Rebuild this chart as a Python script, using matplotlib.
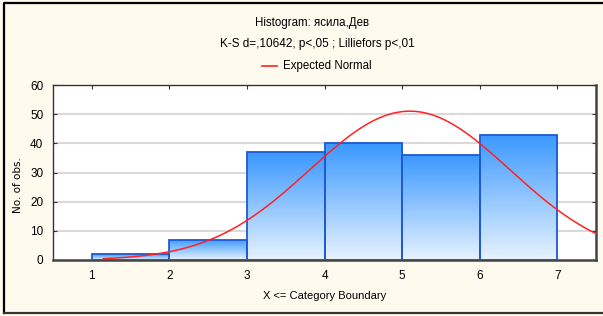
import numpy as np
import matplotlib
matplotlib.use("Agg")
import matplotlib.pyplot as plt
from matplotlib.lines import Line2D
from matplotlib.colors import LinearSegmentedColormap

# data
bin_edges = [1, 2, 3, 4, 5, 6, 7]
counts = [2, 7, 37, 40, 36, 43]
normal_mean = 5.1
normal_sd = 1.29
x_ticks = [1, 2, 3, 4, 5, 6, 7]
y_ticks = [0, 10, 20, 30, 40, 50, 60]
title1 = "Histogram: ясила,Дев"
title2 = "K-S d=,10642, p<,05 ; Lilliefors p<,01"
legend_label = "Expected Normal"
xlabel = "X <= Category Boundary"
ylabel = "No. of obs."

W, H = 603, 316
fig = plt.figure(figsize=(W / 100, H / 100), dpi=100)
bg = "#FFFAEE"
fig.patch.set_facecolor(bg)

font = ["Liberation Sans Narrow", "Liberation Sans", "DejaVu Sans"]
plt.rcParams["font.family"] = font

ax = fig.add_axes([53 / W, 1 - 260 / H, (596 - 53) / W, (260 - 85) / H])
ax.set_facecolor("white")

# grid
for yv in y_ticks[1:-1]:
    ax.axhline(yv, color="#D9D9D9", lw=1.5, zorder=0)

# gradient bars
grad = np.linspace(0, 1, 256).reshape(-1, 1)
cmap = LinearSegmentedColormap.from_list("g", ["#E8F3FF", "#3A98FF"])
widths = np.diff(bin_edges)
bars = ax.bar(bin_edges[:-1], counts, width=widths, align="edge",
              facecolor="none", edgecolor="#1E5AD2", linewidth=1.3, zorder=3)
for b in bars:
    x0, y0 = b.get_x(), b.get_y()
    w, h = b.get_width(), b.get_height()
    im = ax.imshow(grad, extent=[x0, x0 + w, y0, y0 + h], origin="lower",
                   cmap=cmap, aspect="auto", zorder=2, interpolation="bilinear")
    im.set_clip_path(b)
ax.set_aspect("auto")
ax.set_xlim(0.5, 7.5)
ax.set_ylim(0, 60)

# expected normal
N = sum(counts)
xs = np.linspace(1.15, 7.5, 400)
ys = N * 1.0 / (normal_sd * np.sqrt(2 * np.pi)) * np.exp(-0.5 * ((xs - normal_mean) / normal_sd) ** 2)
ax.plot(xs, ys, color="#FF2222", lw=1.1, zorder=4, clip_on=False)

ax.set_xticks(x_ticks)
ax.set_yticks(y_ticks)
ax.tick_params(direction="in", length=3, width=0.8, top=True, right=True,
               labelsize=8.5, colors="#333333", labelcolor="black", pad=7)
for s in ["left", "top"]:
    ax.spines[s].set_color("#333333")
    ax.spines[s].set_linewidth(1.0)
for s in ["bottom", "right"]:
    ax.spines[s].set_color("#444444")
    ax.spines[s].set_linewidth(1.8)

fig.text(325 / W, 1 - 296 / H, xlabel, ha="center", va="center", fontsize=8)
fig.text(18 / W, 1 - 185 / H, ylabel, rotation=90, ha="center", va="center",
         fontsize=7.5, family=["DejaVu Sans"])

fig.text(312 / W, 1 - 23 / H, title1, ha="center", va="center", fontsize=8.3)
fig.text(317 / W, 1 - 44 / H, title2, ha="center", va="center", fontsize=8.5)
fig.add_artist(Line2D([262 / W, 277 / W], [1 - 66 / H, 1 - 66 / H], color="#FF2222", lw=1.2))
fig.text(283 / W, 1 - 66 / H, legend_label, ha="left", va="center", fontsize=8.3)

# outer frame
fig.add_artist(Line2D([4 / W, 4 / W, 1.0], [1 - 313 / H, 1 - 3 / H, 1 - 3 / H],
                      color="black", lw=1.6))
fig.add_artist(Line2D([4 / W, 1.0], [1 - 313 / H, 1 - 313 / H], color="#333333", lw=1.6))

fig.savefig("out.png", dpi=100, facecolor=bg)
